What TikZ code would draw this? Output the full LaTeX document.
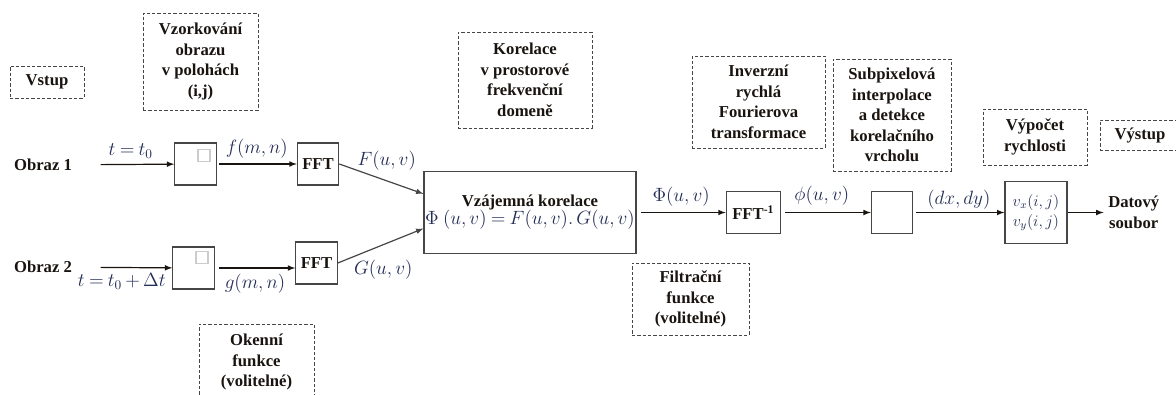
\documentclass[tikz,border=0pt]{standalone}
\usepackage{fontspec}
\setmainfont{Liberation Serif}
\usetikzlibrary{positioning}
\usetikzlibrary{calc}
\usetikzlibrary{arrows}
\definecolor{ink}{RGB}{25,20,15}
\definecolor{mathcol}{RGB}{35,45,85}
\definecolor{frame}{RGB}{70,70,70}
\newcommand{\uzsi}{\thickmuskip=4mu\relax\medmuskip=3mu\relax}
\newcommand{\vzorec}[2][14]{\textcolor{mathcol}{\fontsize{#1}{16}\selectfont\uzsi$#2$}}
\tikzset{
  lbl/.style={font=\bfseries\fontsize{12.5}{15.4}\selectfont, text=ink, align=center},
  blok/.style={draw=frame, line width=0.9, minimum width=31pt, minimum height=31.5pt, inner sep=0pt, lbl},
  popis/.style={draw=frame, line width=0.75, dash pattern=on 2.5pt off 1.5pt, inner sep=0pt, lbl},
  sig/.style={text=mathcol, font={\fontsize{14}{16}\selectfont\uzsi}, inner sep=1pt},
  tok/.style={-latex, line width=0.9, ink},
}

\begin{document}
\begin{tikzpicture}[x=0.75pt, y=-0.75pt]
        \path[use as bounding box, clip] (0,0) rectangle (1176,394);
        \fill[white] (0,0) rectangle (1176,394);

        % nodes %
        \node[lbl] (obr1) at (43,165) {Obraz 1};
        \node[lbl] (obr2) at (43,267) {Obraz 2};
        \node[blok] (s1) at (195.5,164) {};
        \node[blok] (s2) at (193.5,268) {};
        \node[draw=gray!40, line width=0.9, minimum size=9pt, inner sep=0pt] (q1) at (204,155.5) {};
        \node[draw=gray!40, line width=0.9, minimum size=9pt, inner sep=0pt] (q2) at (202,257.5) {};
        \node[blok, right=60pt of s1] (fft1) {FFT};
        \node[blok] (fft2) at (316.5,263) {FFT};
        \node[blok, minimum width=159pt, minimum height=62pt] (kor) at (530,212.5)
            {Vzájemná korelace\\[-2pt]
             \vzorec{\Phi\;(u,v)=F(u,v).\,G(u,v)}};
        \node[blok, minimum width=40.5pt, right=66.75pt of kor] (ifft) {FFT\textsuperscript{-1}};
        \node[blok, right=67.5pt of ifft] (s3) {};
        \node[blok, minimum width=46.5pt, minimum height=46.5pt, right=68.25pt of s3] (vel)
            {\vzorec[12]{v_x(i,j)}\\ \vzorec[12]{v_y(i,j)}};
        \node[lbl, right=27pt of vel] (dat) {Datový\\soubor};

        % popisky %
        \node[popis, minimum width=55.5pt, minimum height=24pt] (vstup) at (47,82) {Vstup};
        \node[popis, minimum width=86.25pt, minimum height=72.75pt] (vzork) at (200.5,61.5)
            {Vzorkování\\obrazu\\v polohách\\(i,j)};
        \node[popis, minimum width=100.5pt, minimum height=72pt] (korel) at (525,80)
            {Korelace\\v prostorové\\frekvenční\\domeně};
        \node[popis, minimum width=99.75pt, minimum height=69pt] (inv) at (758.5,102)
            {Inverzní\\rychlá\\Fourierova\\transformace};
        \node[popis, minimum width=88.5pt, minimum height=84pt] (subpix) at (892,115)
            {Subpixelová\\interpolace\\a detekce\\korelačního\\vrcholu};
        \node[popis, minimum width=78pt, minimum height=42pt] (vyp) at (1035,137)
            {Výpočet\\rychlosti};
        \node[popis, minimum width=60pt, minimum height=22.5pt] (vystup) at (1140,135) {Výstup};
        \node[popis, minimum width=87.75pt, minimum height=54pt] (filtr) at (690.5,299)
            {Filtrační\\funkce\\(volitelné)};
        \node[popis, minimum width=86.25pt, minimum height=57pt] (okno) at (256.5,362)
            {Okenní\\funkce\\(volitelné)};

        % edges %
        \draw[tok, shorten <=18pt] (obr1) -- node[sig, above=3pt, xshift=4pt] {$t=t_0$} (s1);
        \draw[tok, shorten <=18pt] (obr2) -- node[sig, below=3pt, xshift=-2pt] {$t=t_0+\Delta t$} (s2);
        \draw[tok, shorten <=1.5pt] (s1) -- node[sig, above=3pt] {$f(m,n)$} (fft1);
        \draw[tok, shorten <=3.5pt] (s2.east) -- node[sig, below=3pt] {$g(m,n)$} (s2.east -| fft2.west);
        \draw[tok, draw=frame] (fft1.east) -- node[sig, above=5pt, xshift=4pt] {$F(u,v)$} ([yshift=14pt]kor.west);
        \draw[tok, draw=frame] (fft2.east) -- node[sig, below=9pt, xshift=2pt] {$G(u,v)$} ([yshift=-12pt]kor.west);
        \draw[tok, shorten <=3pt] (kor) -- node[sig, above=3pt] {$\Phi(u,v)$} (ifft);
        \draw[tok, shorten <=3pt] (ifft) -- node[sig, above=4pt, xshift=-3pt] {$\phi(u,v)$} (s3);
        \draw[tok, shorten <=2pt] (s3) -- node[sig, above=1pt] {$(dx,dy)$} (vel);
        \draw[tok] (vel) -- (dat);
\end{tikzpicture}
\end{document}
